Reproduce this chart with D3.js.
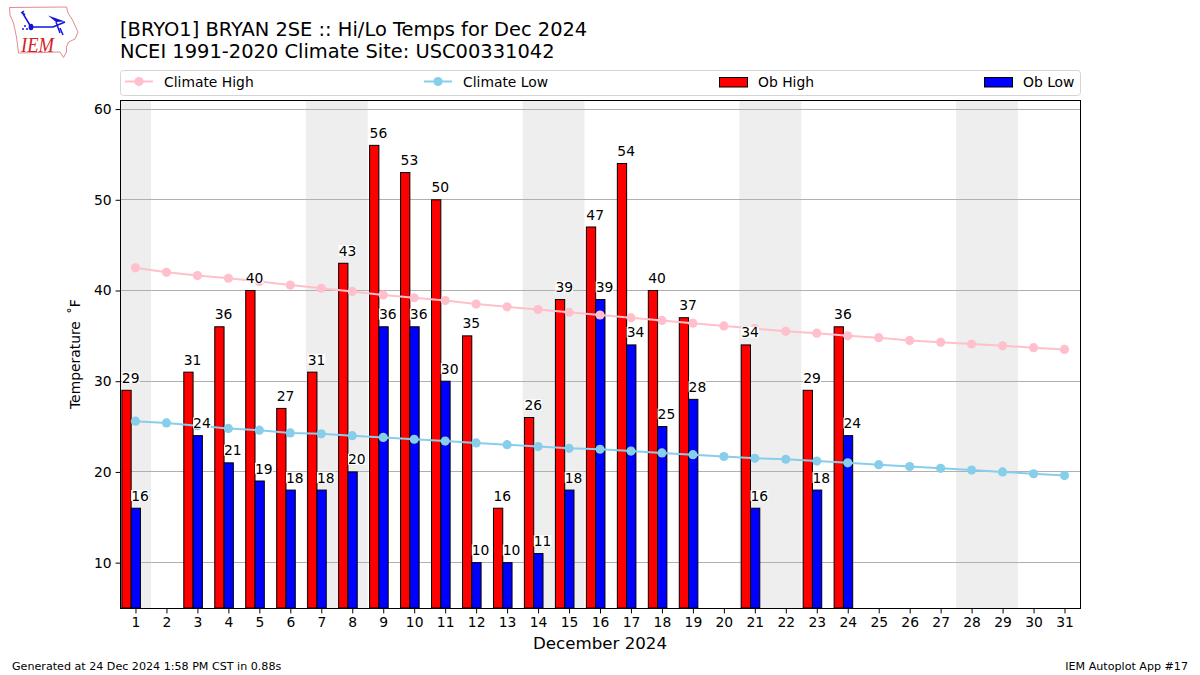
<!DOCTYPE html>
<html><head><meta charset="utf-8">
<script src="https://cdn.jsdelivr.net/npm/d3@7"></script>
<style>html,body{margin:0;padding:0;background:#fff}svg{display:block}text{font-family:"DejaVu Sans";fill:#000}</style>
</head><body><svg id="c" width="1200" height="675"></svg>
<script>
const days = d3.range(1, 32);
const obHigh = [29,null,31,36,40,27,31,43,56,53,50,35,16,26,39,47,54,40,37,null,34,null,29,36];
const obLow = [16,null,24,21,19,18,18,20,36,36,30,10,10,11,18,39,34,25,28,null,16,null,18,24];
const climateHigh = [42.5,42.0,41.65,41.35,41.0,40.6,40.25,39.9,39.5,39.2,38.9,38.5,38.2,37.9,37.6,37.3,37.0,36.7,36.4,36.1,35.8,35.5,35.3,35.0,34.8,34.5,34.3,34.1,33.9,33.7,33.5];
const climateLow = [25.6,25.4,25.1,24.8,24.6,24.3,24.2,24.0,23.8,23.6,23.4,23.2,23.0,22.8,22.6,22.5,22.3,22.1,21.9,21.7,21.5,21.4,21.2,21.0,20.8,20.6,20.4,20.2,20.0,19.8,19.6];
const weekends = [[0.5,1.5],[6.5,8.5],[13.5,15.5],[20.5,22.5],[27.5,29.5]];
const yTicks = [10,20,30,40,50,60];
const legendItems = ["Climate High","Climate Low","Ob High","Ob Low"];

const svg = d3.select("#c");
const L=120,R=1080,T=100,B=608;
const x = d3.scaleLinear().domain([0.5,31.5]).range([L,R]);
const y = d3.scaleLinear().domain([5,61]).range([B,T]);
const snap = v => Math.floor(v)+.5;

svg.append("g").selectAll("rect").data(weekends).join("rect")
 .attr("x",d=>x(d[0])).attr("width",d=>x(d[1])-x(d[0]))
 .attr("y",T).attr("height",B-T).attr("fill","#eeeeee");
svg.append("g").selectAll("line").data(yTicks).join("line")
 .attr("x1",L).attr("x2",R).attr("y1",d=>snap(y(d))).attr("y2",d=>snap(y(d)))
 .attr("stroke","#b0b0b0").attr("stroke-width",1);

const bw=0.3, hiOff=-0.44, loOff=-0.14;
function bars(vals,off,col){
 svg.append("g").selectAll("rect").data(vals.map((v,i)=>({d:i+1,v})).filter(e=>e.v!=null)).join("rect")
  .attr("x",e=>x(e.d+off)).attr("width",x(bw)-x(0))
  .attr("y",e=>y(e.v)).attr("height",e=>B-y(e.v))
  .attr("fill",col).attr("stroke","#000").attr("stroke-width",1);
}
bars(obHigh,hiOff,"#ff0000");
bars(obLow,loOff,"#0000ff");

function climate(vals,col){
 const line=d3.line().x((v,i)=>x(i+1)).y(v=>y(v));
 svg.append("path").attr("d",line(vals)).attr("fill","none").attr("stroke",col).attr("stroke-width",2);
 svg.append("g").selectAll("circle").data(vals).join("circle")
  .attr("cx",(v,i)=>x(i+1)).attr("cy",v=>y(v)).attr("r",4.6).attr("fill",col);
}
climate(climateHigh,"#ffc0cb");
climate(climateLow,"#87ceeb");

function labels(vals,off){
 const g=svg.append("g");
 vals.forEach((v,i)=>{
  if(v==null) return;
  const lx=x(i+1+off), by=y(v)-7.5;
  g.append("rect").attr("x",lx).attr("y",by-10.7).attr("width",17.7).attr("height",11).attr("fill","#fff");
  g.append("text").attr("x",lx).attr("y",by).attr("font-size",13.89).text(v);
 });
}
labels(obHigh,hiOff);
labels(obLow,loOff);

svg.append("rect").attr("x",L+.5).attr("y",T+.5).attr("width",R-L).attr("height",B-T).attr("fill","none").attr("stroke","#000").attr("stroke-width",1);

const xAxis=d3.axisBottom(x).tickValues(days).tickFormat(d3.format("d")).tickSize(4.9).tickPadding(4);
const gx=svg.append("g").attr("transform",`translate(0,${B+.5})`).call(xAxis);
const yAxis=d3.axisLeft(y).tickValues(yTicks).tickFormat(d3.format("d")).tickSize(4.9).tickPadding(4);
const gy=svg.append("g").attr("transform",`translate(${L+.5},0)`).call(yAxis);
[gx,gy].forEach(g=>{g.select(".domain").remove();g.selectAll("text").attr("font-size",13.89).attr("font-family","DejaVu Sans").attr("fill","#000");g.selectAll("line").attr("stroke","#000");});

svg.append("text").attr("x",120).attr("y",36).attr("font-size",19.44).text("[BRYO1] BRYAN 2SE :: Hi/Lo Temps for Dec 2024");
svg.append("text").attr("x",120).attr("y",58).attr("font-size",19.44).text("NCEI 1991-2020 Climate Site: USC00331042");
svg.append("text").attr("x",600).attr("y",649).attr("text-anchor","middle").attr("font-size",16.67).text("December 2024");
const yl=svg.append("text").attr("transform","translate(80,409) rotate(-90)").attr("font-size",13.89);
yl.append("tspan").text("Temperature");
yl.append("tspan").attr("dx",7).text("˚");
yl.append("tspan").attr("dx",0).text("F");
svg.append("text").attr("x",12).attr("y",670).attr("font-size",11.11).text("Generated at 24 Dec 2024 1:58 PM CST in 0.88s");
svg.append("text").attr("x",1188).attr("y",670).attr("text-anchor","end").attr("font-size",11.11).text("IEM Autoplot App #17");

svg.append("rect").attr("x",120.5).attr("y",70.5).attr("width",960).attr("height",25).attr("rx",3).attr("fill","#fff").attr("stroke","#d5d5d5");
const lx=[125,424,719,984];
legendItems.forEach((t,i)=>{
 const cy=81.5;
 if(i<2){
  const c=i==0?"#ffc0cb":"#87ceeb";
  svg.append("line").attr("x1",lx[i]).attr("x2",lx[i]+28).attr("y1",cy).attr("y2",cy).attr("stroke",c).attr("stroke-width",2);
  svg.append("circle").attr("cx",lx[i]+14).attr("cy",cy).attr("r",4.6).attr("fill",c);
 } else {
  svg.append("rect").attr("x",lx[i]+.5).attr("y",77.5).attr("width",28).attr("height",9.5).attr("fill",i==2?"#ff0000":"#0000ff").attr("stroke","#000");
 }
 svg.append("text").attr("x",lx[i]+39).attr("y",86.5).attr("font-size",13.89).text(t);
});

const logo=svg.append("g");
logo.append("path").attr("d","M9.5,7.5 L66.5,7 L68,13 L72.5,20 L78,32 L75,39 L68.5,42 L66.5,47 L66.5,52 L63.5,57.5 L60,52 L18.5,53 L16.5,37 L13.5,23 L10,15 Z")
 .attr("fill","#fff").attr("stroke","#e58a8f").attr("stroke-width",1);
logo.append("path").attr("d","M31,27 H53 L65,22 M31,27 L22,12 M22,12 L25,15 M56,22 L60,33 M60,28 L63,35 M21,13 L24,11").attr("fill","none").attr("stroke","#1414d8").attr("stroke-width",1.5);
logo.append("path").attr("d","M48,15.5 L65,21.5 L56,22 Z").attr("fill","#1414d8");
logo.append("ellipse").attr("cx",31).attr("cy",27).attr("rx",2.4).attr("ry",3.2).attr("fill","#1414d8");
logo.append("g").selectAll("circle").data([[23,29],[25,26],[27,29]]).join("circle").attr("cx",d=>d[0]).attr("cy",d=>d[1]).attr("r",1).attr("fill","#1414d8");
logo.append("text").attr("x",21).attr("y",52).attr("font-family","Liberation Serif").attr("font-style","italic").attr("font-size",22).attr("textLength",33).attr("lengthAdjust","spacingAndGlyphs").style("font-family","Liberation Serif").style("fill","#d42028").text("IEM");
</script></body></html>
